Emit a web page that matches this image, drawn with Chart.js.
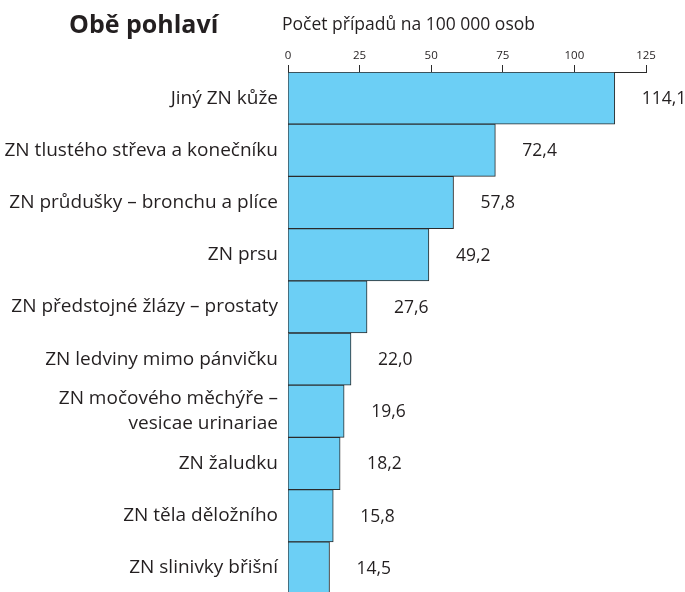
<!DOCTYPE html>
<html lang="cs">
<head>
<meta charset="UTF-8" />
<title>Obě pohlaví</title>
<script src="https://cdn.jsdelivr.net/npm/chart.js"></script>
<style>
    body {
        margin: 0;
        background: #ffffff;
        overflow: hidden;
    }
    canvas {
        display: block;
    }
</style>
</head>
<body>
<canvas id="chart" width="685" height="598"></canvas>
<script>
    const categories = [
        "Jiný ZN kůže",
        "ZN tlustého střeva a konečníku",
        "ZN průdušky – bronchu a plíce",
        "ZN prsu",
        "ZN předstojné žlázy – prostaty",
        "ZN ledviny mimo pánvičku",
        ["ZN močového měchýře –", "vesicae urinariae"],
        "ZN žaludku",
        "ZN těla děložního",
        "ZN slinivky břišní"
    ];
    const values = [114.1, 72.4, 57.8, 49.2, 27.6, 22.0, 19.6, 18.2, 15.8, 14.5];
    const tickValues = [0, 25, 50, 75, 100, 125];
    const chartTitle = "Obě pohlaví";
    const axisTitle = "Počet případů na 100 000 osob";

    const FONT = "'Open Sans', 'Noto Sans', sans-serif";
    const TEXT = "#231f20";

    // value labels right of each bar + the two headings
    const labelsPlugin = {
        id: "labels",
        afterDatasetsDraw(chart) {
            const ctx = chart.ctx;
            const meta = chart.getDatasetMeta(0);
            ctx.save();
            ctx.fillStyle = TEXT;
            ctx.font = "17.5px " + FONT;
            ctx.textAlign = "left";
            ctx.textBaseline = "middle";
            meta.data.forEach((bar, i) => {
                ctx.fillText(values[i].toFixed(1).replace(".", ","), bar.x + 27, bar.y + 1);
            });
            ctx.font = "bold 25px " + FONT;
            ctx.textBaseline = "alphabetic";
            ctx.fillText(chartTitle, 69, 33);
            ctx.font = "17.5px " + FONT;
            ctx.fillText(axisTitle, 282, 30);
            ctx.restore();
        }
    };

    new Chart(document.getElementById("chart"), {
        type: "bar",
        data: {
            labels: categories,
            datasets: [{
                data: values,
                backgroundColor: "#6ccff5",
                borderColor: "#2b2b2b",
                borderWidth: 1,
                barPercentage: 1,
                categoryPercentage: 1
            }]
        },
        options: {
            indexAxis: "y",
            animation: false,
            responsive: false,
            layout: { padding: { left: 0, right: 39, top: 0, bottom: 4 } },
            plugins: {
                legend: { display: false },
                tooltip: { enabled: false }
            },
            scales: {
                x: {
                    position: "top",
                    min: 0,
                    max: 125,
                    afterBuildTicks: scale => {
                        scale.ticks = tickValues.map(v => ({ value: v }));
                    },
                    afterFit: scale => { scale.height = 72; },
                    grid: {
                        drawOnChartArea: false,
                        drawTicks: true,
                        tickLength: 7,
                        color: "#2b2b2b"
                    },
                    border: { display: true, color: "#2b2b2b", width: 1 },
                    ticks: {
                        color: TEXT,
                        font: { size: 11.5, family: FONT },
                        padding: 2,
                        maxRotation: 0
                    }
                },
                y: {
                    afterFit: scale => {
                        scale.width = 288;
                        scale.paddingTop = 0;
                        scale.paddingBottom = 0;
                    },
                    grid: { display: false, drawTicks: false },
                    border: { display: true, color: "#2b2b2b" },
                    ticks: {
                        color: TEXT,
                        font: { size: 19, family: FONT, lineHeight: 1.3 },
                        padding: 10,
                        crossAlign: "near",
                        autoSkip: false
                    }
                }
            }
        },
        plugins: [labelsPlugin]
    });
</script>
</body>
</html>
